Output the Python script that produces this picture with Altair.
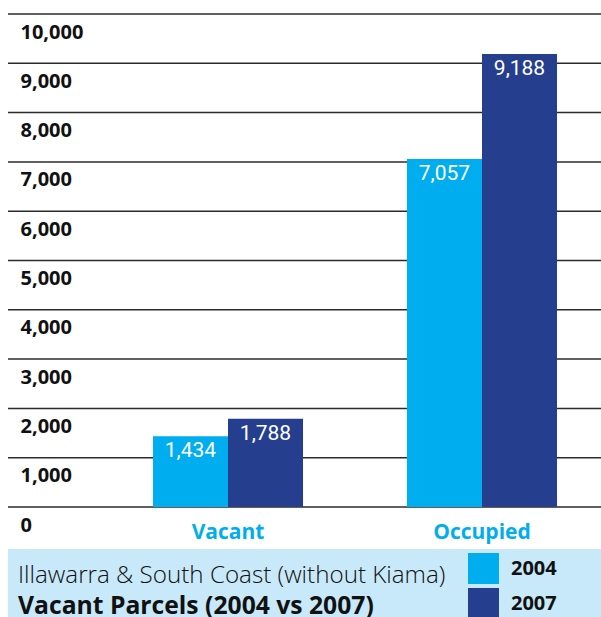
import altair as alt
import pandas as pd

# Parcel counts by land-use group and survey year
groups = ["Vacant", "Vacant", "Occupied", "Occupied"]
years = ["2004", "2007", "2004", "2007"]
parcels = [1434, 1788, 7057, 9188]

group_order = ["Vacant", "Occupied"]
year_order = ["2004", "2007"]
year_colors = ["#00adef", "#253f8e"]
y_ticks = [0, 1000, 2000, 3000, 4000, 5000, 6000, 7000, 8000, 9000, 10000]

caption_line1 = "Illawarra & South Coast (without Kiama)"
caption_line2 = "Vacant Parcels (2004 vs 2007)"

df = pd.DataFrame({"group": groups, "year": years, "parcels": parcels})
df["label"] = df["parcels"].map(lambda v: f"{v:,}")
grid_df = pd.DataFrame({"parcels": y_ticks})

W, H = 593, 493

y_scale = alt.Scale(domain=[0, 10000], nice=False)
y_axis = alt.Axis(
    title=None, values=y_ticks, format=",d", domain=False, ticks=False,
    tickSize=0, grid=False,
    labelAlign="left", labelPadding=-12, labelBaseline="alphabetic",
    labelOffset=24, labelFont="Open Sans", labelFontSize=20,
    labelFontWeight="bold", labelColor="#111111",
)

x_enc = alt.X(
    "group:N",
    sort=group_order,
    scale=alt.Scale(range=[93, 601], paddingInner=0, paddingOuter=0),
    axis=alt.Axis(
        title=None, domain=False, ticks=False, tickSize=0, labelAngle=0,
        labelColor="#00aeef", labelFont="Open Sans", labelFontSize=21,
        labelFontWeight="bold", labelPadding=31, labelBaseline="alphabetic",
    ),
)
xoff_enc = alt.XOffset(
    "year:N", sort=year_order,
    scale=alt.Scale(paddingInner=0, paddingOuter=0.693),
)
y_enc = alt.Y("parcels:Q", scale=y_scale, axis=y_axis)

# Light blue caption band under the plot
band = alt.Chart(pd.DataFrame({"k": [0]})).mark_rect(color="#c8e9f9", clip=False).encode(
    x=alt.value(0), x2=alt.value(W), y=alt.value(535), y2=alt.value(610)
)

# Horizontal gridlines spanning the full plot width
grid = alt.Chart(grid_df).mark_rule(color="#2b2b2b", strokeWidth=1.5).encode(
    y=y_enc,
    x=alt.value(0), x2=alt.value(W),
)

bars = alt.Chart(df).mark_bar().encode(
    x=x_enc,
    xOffset=xoff_enc,
    y=y_enc,
    color=alt.Color(
        "year:N",
        scale=alt.Scale(domain=year_order, range=year_colors),
        legend=alt.Legend(
            title=None, orient="none", legendX=460, legendY=539,
            symbolType="square", symbolSize=961, symbolStrokeWidth=0,
            symbolOpacity=1, labelFont="Open Sans", labelFontSize=20,
            labelFontWeight="bold", labelColor="#111111", labelOffset=12,
            rowPadding=4, padding=0,
        ),
    ),
)

bar_labels = alt.Chart(df).mark_text(
    color="white", font="Roboto", fontSize=21, baseline="alphabetic", dy=21
).encode(x=x_enc, xOffset=xoff_enc, y=y_enc, text="label:N")

cap1 = alt.Chart(pd.DataFrame({"t": [caption_line1]})).mark_text(
    font="Open Sans", fontWeight=300, fontSize=24.2, align="left",
    baseline="alphabetic", color="#111111", clip=False
).encode(x=alt.value(10), y=alt.value(569), text="t:N")

cap2 = alt.Chart(pd.DataFrame({"t": [caption_line2]})).mark_text(
    font="Open Sans", fontWeight="bold", fontSize=24.7, align="left",
    baseline="alphabetic", color="#111111", clip=False
).encode(x=alt.value(10), y=alt.value(600), text="t:N")

chart = (
    alt.layer(band, grid, bars, bar_labels, cap1, cap2)
    .properties(
        width=W, height=H,
        autosize=alt.AutoSizeParams(type="none"),
        padding={"left": 8, "top": 14, "right": 0, "bottom": 110},
    )
    .configure_view(stroke=None)
)

chart.save("out.html", embed_options={"renderer": "svg", "actions": False})
